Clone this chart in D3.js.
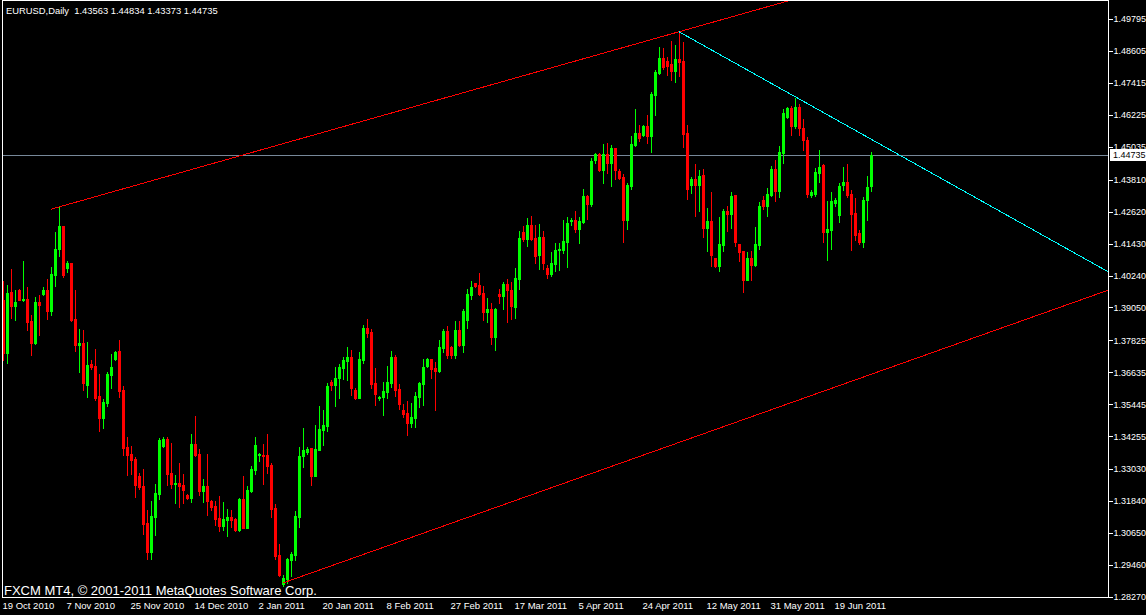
<!DOCTYPE html>
<html><head><meta charset="utf-8">
<script src="https://cdn.jsdelivr.net/npm/d3@7"></script>
<style>
html,body{margin:0;padding:0;background:#000;overflow:hidden;}
svg{display:block;}
text{font-family:"Liberation Sans",Arial,sans-serif;}
</style></head><body>
<svg id="chart" width="1146" height="615"></svg>
<script>
// ---- data (EURUSD Daily, one bar per trading day incl. Sunday bars) ----
const symbolTitle = "EURUSD,Daily";
const opens = [
1.3933,1.3736,1.3963,1.3911,1.3970,1.3933,1.3937,1.3855,1.3773,1.3926,
1.3955,1.3970,1.3892,1.4026,1.4122,1.4209,1.4052,1.4071,1.3862,1.3765,
1.3773,1.3616,1.3695,1.3688,1.3576,1.3493,1.3550,1.3653,1.3713,1.3743,
1.3598,1.3386,1.3359,1.3341,1.3278,1.3240,1.3103,1.2995,1.3125,1.3210,
1.3389,1.3415,1.3289,1.3248,1.3252,1.3244,1.3207,1.3196,1.3397,1.3359,
1.3222,1.3240,1.3184,1.3166,1.3121,1.3092,1.3114,1.3125,1.3118,1.3076,
1.3192,1.3084,1.3222,1.3300,1.3355,1.3355,1.3355,1.3318,1.3158,1.2983,
1.2875,1.2894,1.2965,1.2983,1.3125,1.3352,1.3367,1.3382,1.3278,1.3374,
1.3449,1.3464,1.3628,1.3616,1.3643,1.3680,1.3706,1.3721,1.3598,1.3568,
1.3710,1.3829,1.3814,1.3624,1.3566,1.3572,1.3591,1.3624,1.3721,1.3602,
1.3523,1.3512,1.3475,1.3493,1.3572,1.3620,1.3688,1.3713,1.3680,1.3669,
1.3754,1.3817,1.3758,1.3728,1.3821,1.3765,1.3859,1.3951,1.3997,1.3989,
1.3959,1.3888,1.3899,1.3795,1.3955,1.3948,1.3993,1.3970,1.3907,1.4011,
1.4187,1.4160,1.4212,1.4164,1.4100,1.4168,1.4052,1.4030,1.4067,1.4119,
1.4119,1.4149,1.4227,1.4231,1.4197,1.4224,1.4321,1.4290,1.4454,1.4477,
1.4417,1.4477,1.4443,1.4499,1.4413,1.4391,1.4231,1.4358,1.4510,1.4555,
1.4548,1.4581,1.4544,1.4696,1.4779,1.4834,1.4823,1.4812,1.4786,1.4831,
1.4823,1.4555,1.4361,1.4384,1.4361,1.4399,1.4201,1.4227,1.4089,1.4060,
1.4138,1.4264,1.4253,1.4324,1.4142,1.4115,1.4008,1.4089,1.4063,1.4138,
1.4305,1.4283,1.4324,1.4421,1.4339,1.4481,1.4615,1.4648,1.4581,1.4652,
1.4574,1.4529,1.4324,1.4328,1.4406,1.4436,1.4187,1.4194,1.4294,1.4250,
1.4361,1.4372,1.4328,1.4257,1.4183,1.4149,1.4305,1.43563];
const highs = [
1.4004,1.3989,1.4048,1.3970,1.3972,1.4078,1.3982,1.3877,1.3944,1.3951,
1.3982,1.4011,1.4056,1.4187,1.4279,1.4209,1.4078,1.4071,1.3970,1.3825,
1.3821,1.3777,1.3710,1.3750,1.3657,1.3565,1.3665,1.3732,1.3743,1.3784,
1.3613,1.3423,1.3389,1.3348,1.3289,1.3304,1.3151,1.3184,1.3248,1.3419,
1.3423,1.3423,1.3401,1.3281,1.3326,1.3285,1.3210,1.3434,1.3500,1.3378,
1.3266,1.3359,1.3188,1.3184,1.3203,1.3181,1.3155,1.3151,1.3121,1.3195,
1.3278,1.3240,1.3315,1.3423,1.3363,1.3397,1.3434,1.3326,1.3173,1.3024,
1.2908,1.2972,1.2995,1.3147,1.3386,1.3456,1.3386,1.3382,1.3467,1.3539,
1.3523,1.3624,1.3635,1.3684,1.3695,1.3721,1.3758,1.3747,1.3605,1.3740,
1.3840,1.3862,1.3825,1.3680,1.3576,1.3628,1.3688,1.3743,1.3728,1.3620,
1.3546,1.3557,1.3550,1.3591,1.3628,1.3713,1.3717,1.3713,1.3702,1.3784,
1.3825,1.3836,1.3760,1.3855,1.3855,1.3899,1.3974,1.4004,1.3997,1.4034,
1.3986,1.3940,1.3922,1.3903,1.3974,1.4000,1.4011,1.4000,1.4052,1.4190,
1.4209,1.4238,1.4246,1.4212,1.4216,1.4190,1.4063,1.4112,1.4145,1.4145,
1.4231,1.4242,1.4238,1.4264,1.4242,1.4346,1.4324,1.4461,1.4481,1.4481,
1.4514,1.4518,1.4510,1.4499,1.4421,1.4402,1.4369,1.4544,1.4644,1.4584,
1.4584,1.4622,1.4708,1.4790,1.4875,1.4871,1.4838,1.4898,1.4883,1.4932,
1.4894,1.4584,1.4391,1.4439,1.4417,1.4421,1.4275,1.4335,1.4089,1.4242,
1.4272,1.4283,1.4335,1.4324,1.4142,1.4115,1.4112,1.4115,1.4205,1.4298,
1.4321,1.4350,1.4432,1.4454,1.4507,1.4644,1.4652,1.4656,1.4685,1.4663,
1.4607,1.4540,1.4343,1.4424,1.4492,1.4440,1.4302,1.4335,1.4313,1.4369,
1.4428,1.4439,1.4343,1.4313,1.4194,1.4317,1.4395,1.44834];
const lows = [
1.3710,1.3699,1.3866,1.3859,1.3931,1.3929,1.3821,1.3728,1.3769,1.3802,
1.3951,1.3862,1.3877,1.3986,1.4097,1.4019,1.4038,1.3855,1.3743,1.3665,
1.3598,1.3572,1.3676,1.3561,1.3445,1.3456,1.3539,1.3605,1.3710,1.3572,
1.3355,1.3281,1.3285,1.3199,1.3229,1.3061,1.2969,1.2969,1.3057,1.3192,
1.3386,1.3244,1.3233,1.3177,1.3162,1.3177,1.3192,1.3181,1.3352,1.3207,
1.3181,1.3132,1.3151,1.3095,1.3073,1.3076,1.3054,1.3088,1.3073,1.3073,
1.3084,1.3084,1.3218,1.3285,1.3333,1.3248,1.3289,1.3125,1.2969,1.2905,
1.2868,1.2879,1.2905,1.2965,1.3088,1.3311,1.3359,1.3244,1.3278,1.3374,
1.3393,1.3445,1.3598,1.3539,1.3568,1.3639,1.3635,1.3579,1.3565,1.3568,
1.3699,1.3795,1.3605,1.3542,1.3561,1.3505,1.3568,1.3609,1.3576,1.3527,
1.3497,1.3430,1.3460,1.3460,1.3535,1.3542,1.3684,1.3643,1.3523,1.3665,
1.3740,1.3717,1.3717,1.3717,1.3762,1.3740,1.3829,1.3937,1.3982,1.3951,
1.3859,1.3852,1.3769,1.3747,1.3922,1.3899,1.3852,1.3862,1.3866,1.3974,
1.4153,1.4134,1.4156,1.4071,1.4048,1.4048,1.4015,1.4023,1.4041,1.4045,
1.4108,1.4056,1.4212,1.4187,1.4145,1.4220,1.4234,1.4283,1.4443,1.4413,
1.4369,1.4406,1.4358,1.4384,1.4384,1.4149,1.4197,1.4346,1.4507,1.4525,
1.4544,1.4518,1.4484,1.4622,1.4775,1.4794,1.4771,1.4752,1.4745,1.4768,
1.4503,1.4309,1.4331,1.4246,1.4264,1.4168,1.4115,1.4060,1.4056,1.4041,
1.4115,1.4190,1.4201,1.4134,1.4078,1.3963,1.4008,1.4008,1.4060,1.4122,
1.4272,1.4246,1.4321,1.4302,1.4317,1.4443,1.4611,1.4548,1.4574,1.4548,
1.4492,1.4317,1.4317,1.4321,1.4372,1.4149,1.4082,1.4122,1.4283,1.4224,
1.4343,1.4317,1.4119,1.4156,1.4142,1.4130,1.4231,1.43373];
const closes = [
1.3736,1.3959,1.3911,1.3926,1.3933,1.3937,1.3852,1.3773,1.3926,1.3914,
1.3970,1.3892,1.4030,1.4122,1.4209,1.4026,1.4071,1.3859,1.3765,1.3773,
1.3624,1.3691,1.3684,1.3568,1.3493,1.3554,1.3657,1.3684,1.3740,1.3594,
1.3382,1.3355,1.3337,1.3244,1.3237,1.3099,1.2995,1.3129,1.3214,1.3412,
1.3415,1.3285,1.3248,1.3252,1.3240,1.3225,1.3196,1.3397,1.3355,1.3222,
1.3240,1.3184,1.3162,1.3118,1.3092,1.3118,1.3125,1.3114,1.3076,1.3192,
1.3084,1.3225,1.3304,1.3393,1.3359,1.3352,1.3315,1.3155,1.2980,1.2908,
1.2897,1.2969,1.2987,1.3129,1.3352,1.3374,1.3378,1.3278,1.3378,1.3453,
1.3467,1.3613,1.3616,1.3643,1.3684,1.3710,1.3721,1.3605,1.3568,1.3713,
1.3829,1.3810,1.3620,1.3583,1.3570,1.3594,1.3628,1.3721,1.3598,1.3546,
1.3509,1.3475,1.3497,1.3576,1.3624,1.3684,1.3713,1.3676,1.3669,1.3758,
1.3817,1.3728,1.3728,1.3821,1.3765,1.3892,1.3955,1.3982,1.3986,1.3955,
1.3888,1.3899,1.3795,1.3899,1.3948,1.3993,1.3970,1.3911,1.4015,1.4164,
1.4160,1.4212,1.4160,1.4097,1.4168,1.4071,1.4030,1.4071,1.4119,1.4122,
1.4153,1.4220,1.4231,1.4197,1.4227,1.4321,1.4290,1.4450,1.4477,1.4417,
1.4477,1.4443,1.4499,1.4417,1.4387,1.4231,1.4361,1.4514,1.4555,1.4536,
1.4581,1.4544,1.4700,1.4782,1.4834,1.4801,1.4805,1.4786,1.4831,1.4820,
1.4551,1.4346,1.4384,1.4361,1.4395,1.4201,1.4227,1.4100,1.4060,1.4142,
1.4264,1.4253,1.4321,1.4149,1.4112,1.4008,1.4089,1.4063,1.4142,1.4283,
1.4283,1.4328,1.4421,1.4339,1.4484,1.4630,1.4648,1.4581,1.4652,1.4574,
1.4529,1.4328,1.4335,1.4410,1.4428,1.4187,1.4197,1.4302,1.4305,1.4358,
1.4372,1.4324,1.4253,1.4175,1.4149,1.4305,1.4354,1.44735];
const dateTickIndex = [0,16,32,48,64,80,96,112,128,144,160,176,192,208];
const dateTickLabels = ["19 Oct 2010","7 Nov 2010","25 Nov 2010","14 Dec 2010","2 Jan 2011","20 Jan 2011","8 Feb 2011","27 Feb 2011","17 Mar 2011","5 Apr 2011","24 Apr 2011","12 May 2011","31 May 2011","19 Jun 2011"];
const priceTicks = [1.49795,1.48605,1.47415,1.46225,1.45035,1.43810,1.42620,1.41430,1.40240,1.39050,1.37825,1.36635,1.35445,1.34255,1.33030,1.31840,1.30650,1.29460,1.28270];
// trend lines: two anchor points [bar index, price], drawn as rays to the right
const trendUpper = [[12,1.4271],[169,1.4932]];
const trendLower = [[70,1.2879],[217,1.3656]];
const trendCyan  = [[169,1.4932],[217,1.4532]];
const watermark = "FXCM MT4, \u00A9 2001-2011 MetaQuotes Software Corp.";

// ---- drawing ----
const W = 1146, H = 615;
const frame = {left: 2, right: 1108, top: 0, bottom: 597};
const n = opens.length;
const x = d3.scaleLinear().domain([0, n - 1]).range([3, 3 + 4 * (n - 1)]);
const y = d3.scaleLinear().domain([1.28270, 1.49795]).range([596.9, 19]);
const fmt = d3.format(".5f");

const svg = d3.select("#chart");
svg.append("rect").attr("width", W).attr("height", H).attr("fill", "#000");
svg.append("defs").append("clipPath").attr("id", "clip")
  .append("rect").attr("x", frame.left + 1).attr("y", frame.top + 1)
  .attr("width", frame.right - frame.left - 1).attr("height", frame.bottom - frame.top - 1);

const plot = svg.append("g").attr("clip-path", "url(#clip)");

// bid line
const lastClose = closes[n - 1];
plot.append("line")
  .attr("x1", frame.left).attr("x2", frame.right)
  .attr("y1", Math.round(y(lastClose)) + 0.5).attr("y2", Math.round(y(lastClose)) + 0.5)
  .attr("stroke", "#778899").attr("stroke-width", 1).attr("shape-rendering", "crispEdges");

// candles
const bars = d3.range(n).map(i => ({i, o: opens[i], h: highs[i], l: lows[i], c: closes[i]}));
const cg = plot.append("g").attr("shape-rendering", "crispEdges");
const cand = cg.selectAll("g").data(bars).join("g")
  .attr("fill", d => d.c >= d.o ? "#00ff00" : "#ff0000");
cand.append("rect")
  .attr("x", d => Math.round(x(d.i)))
  .attr("y", d => Math.round(y(d.h)))
  .attr("width", 1)
  .attr("height", d => Math.max(1, Math.round(y(d.l)) - Math.round(y(d.h)) + 1));
cand.append("rect")
  .attr("x", d => Math.round(x(d.i)) - 1)
  .attr("y", d => Math.round(y(Math.max(d.o, d.c))))
  .attr("width", 3)
  .attr("height", d => Math.max(1, Math.round(y(Math.min(d.o, d.c))) - Math.round(y(Math.max(d.o, d.c))) + 1));

// trend lines (rays)
function ray(pts, color) {
  const x1 = x(pts[0][0]), y1 = y(pts[0][1]);
  const x2 = x(pts[1][0]), y2 = y(pts[1][1]);
  const k = (y2 - y1) / (x2 - x1);
  const xe = frame.right;
  plot.append("line")
    .attr("x1", x1).attr("y1", y1)
    .attr("x2", xe).attr("y2", y1 + k * (xe - x1))
    .attr("stroke", color).attr("stroke-width", 1)
    .attr("shape-rendering", "crispEdges");
}
ray(trendUpper, "#ff0000");
ray(trendLower, "#ff0000");
ray(trendCyan, "#00ffff");

// frame
svg.append("rect")
  .attr("x", frame.left + 0.5).attr("y", frame.top + 0.5)
  .attr("width", frame.right - frame.left).attr("height", frame.bottom - frame.top)
  .attr("fill", "none").attr("stroke", "#ffffff").attr("shape-rendering", "crispEdges");

// price axis
const ya = svg.append("g").attr("transform", `translate(${frame.right + 0.5},0)`)
  .call(d3.axisRight(y).tickValues(priceTicks).tickSize(4).tickPadding(1).tickFormat(fmt));
ya.select(".domain").remove();
ya.selectAll("line").attr("stroke", "#fff").attr("shape-rendering", "crispEdges");
ya.selectAll("text").attr("fill", "#fff").attr("font-size", "9px")
  .attr("font-family", "Liberation Sans, Arial, sans-serif");

// current price label
const ly = Math.round(y(lastClose));
svg.append("rect").attr("x", frame.right + 2).attr("y", ly - 6).attr("width", W - frame.right - 2).attr("height", 12).attr("fill", "#fff");
svg.append("text").attr("x", frame.right + 5).attr("y", ly).attr("dy", "0.35em")
  .attr("fill", "#000").attr("font-size", "9px").text(fmt(lastClose));

// time axis
const xa = svg.append("g").attr("transform", `translate(0,${frame.bottom + 0.5})`)
  .call(d3.axisBottom(x).tickValues(dateTickIndex).tickSize(0).tickPadding(5)
    .tickFormat((d, k) => dateTickLabels[k]));
xa.select(".domain").remove();
xa.selectAll("line").remove();
xa.selectAll("text").attr("fill", "#fff").attr("font-size", "9.5px")
  .attr("text-anchor", "start").attr("dx", "-1")
  .attr("font-family", "Liberation Sans, Arial, sans-serif");

// header
svg.append("text").attr("x", 6).attr("y", 14).attr("fill", "#fff").attr("font-size", "9.4px")
  .attr("xml:space", "preserve")
  .text(`${symbolTitle}  ${opens[n-1].toFixed(5)} ${highs[n-1].toFixed(5)} ${lows[n-1].toFixed(5)} ${closes[n-1].toFixed(5)}`);

// watermark
svg.append("text").attr("x", 4).attr("y", 595).attr("fill", "#ffffff").attr("font-size", "13px")
  .text(watermark);
</script>
</body></html>
